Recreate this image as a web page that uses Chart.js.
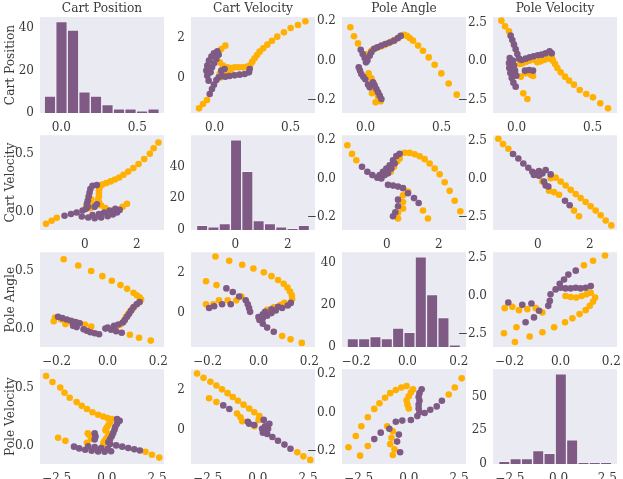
<!DOCTYPE html>
<html>
<head>
<meta charset="utf-8">
<script src="https://cdn.jsdelivr.net/npm/chart.js@4.4.0/dist/chart.umd.min.js"></script>
<style>
  body { margin: 0; background: #fff; }
  #grid { position: relative; width: 623px; height: 479px; overflow: hidden; }
  #grid canvas { position: absolute; }
</style>
</head>
<body>
<div id="grid"></div>
<script>
// variable names (rows / columns)
const variables = ["Cart Position", "Cart Velocity", "Pole Angle", "Pole Velocity"];
const varKeys = ["A", "B", "C", "D"];

// axis ranges
const axisRanges = { A: [-0.155, 0.66], B: [-1.72, 3.04], C: [-0.265, 0.222], D: [-3.33, 2.85] };
const tickSteps = { A: 0.5, B: 2, C: 0.2, D: 2.5 };
const tickDecimals = { A: 1, B: 0, C: 1, D: 1 };

// histograms on the diagonal: counts, first bin edge, bin width
const histCountsA = [8, 43, 39, 10, 8, 4, 2, 2, 1, 2];
const histCountsB = [3, 2, 4, 57, 37, 6, 4, 2, 1, 3];
const histCountsC = [4, 4, 5, 4, 9, 7, 43, 25, 14, 1];
const histCountsD = [2, 4, 4, 10, 8, 67, 18, 1, 1, 1];
const histBins = { A: [-0.112, 0.0757], B: [-1.48, 0.431], C: [-0.235, 0.04415], D: [-3.08, 0.581] };
const histRanges = { A: [-0.14, 0.676], B: [-1.69, 3.04], C: [-0.255, 0.228], D: [-3.37, 3.0] };
const histSteps = { A: 20, B: 20, C: 20, D: 25 };

// scatter pairs [first var, second var]
const purpleAB = [
  [-0.032,-0.778],[-0.017,-0.530],[-0.004,-0.315],[0.012,-0.084],[0.027,0.048],[0.044,0.115],
  [0.071,0.082],[0.099,0.115],[0.132,0.148],[0.165,0.181],[0.198,0.214],[0.226,0.296],[0.231,0.462],
  [-0.048,0.131],[-0.054,0.379],[-0.048,0.627],[-0.037,0.875],[-0.021,1.073],[-0.004,1.238],[0.018,1.338],
  [-0.026,0.296],[-0.017,0.544],[-0.004,0.742],[0.012,0.957],[0.027,1.172],
  [-0.039,-0.117],[0.044,0.379],[0.066,0.462]
];
const orangeAB = [
  [0.597,2.825],[0.548,2.643],[0.500,2.495],[0.456,2.280],[0.412,2.065],[0.377,1.866],[0.347,1.668],
  [0.320,1.486],[0.296,1.321],[0.279,1.156],[0.263,0.990],[0.248,0.825],[0.235,0.660],
  [0.215,0.577],[0.187,0.544],[0.158,0.544],[0.132,0.544],[0.106,0.511],[0.084,0.544],[0.055,0.627],[0.033,0.792],
  [0.033,0.214],[0.062,0.247],[0.088,0.181],[0.110,0.247],[0.044,0.048],
  [0.071,1.619],[0.044,1.453],
  [-0.102,-1.489],[-0.076,-1.274],[-0.050,-1.076]
];
const purpleAC = [
  [-0.032,0.056],[-0.019,0.034],[-0.006,0.014],[0.003,-0.008],[0.012,0.001],[0.027,0.026],[0.038,0.043],
  [0.055,0.060],[0.077,0.068],[0.104,0.077],[0.130,0.085],[0.158,0.093],[0.187,0.102],[0.213,0.115],[0.231,0.126],
  [-0.045,-0.033],[-0.037,-0.050],[-0.028,-0.067],[-0.015,-0.081],[-0.002,-0.094],[0.016,-0.121],[0.027,-0.135],
  [0.049,-0.109],[0.060,-0.126],[0.071,-0.143],[0.082,-0.160],[0.093,-0.177],[0.104,-0.194]
];
const orangeAC = [
  [-0.100,0.170],[-0.076,0.124],[-0.050,0.088],[0.012,0.034],
  [0.020,0.026],[0.038,0.051],[0.060,0.063],[0.082,0.068],[0.104,0.073],[0.125,0.080],[0.147,0.088],
  [0.169,0.097],[0.191,0.105],[0.213,0.115],[0.235,0.127],[0.253,0.132],[0.272,0.126],[0.290,0.115],
  [0.312,0.102],[0.345,0.077],[0.377,0.051],[0.415,0.017],[0.454,-0.020],[0.498,-0.064],[0.546,-0.115],[0.599,-0.172],
  [0.020,-0.064],[0.038,-0.089],[0.055,-0.118],[0.042,-0.165],[0.064,-0.152],[0.077,-0.157],[0.082,-0.182],
  [0.066,-0.211],[0.099,-0.206]
];
const purpleAD = [
  [-0.039,1.648],[-0.028,1.369],[-0.017,1.069],[-0.006,0.769],[0.005,0.468],[0.016,0.168],[0.033,0.082],
  [0.060,0.168],[0.086,0.254],[0.112,0.318],[0.139,0.382],[0.165,0.425],[0.191,0.511],[0.217,0.640],[0.231,0.511],
  [-0.045,0.211],[-0.050,-0.111],[-0.048,-0.433],[-0.041,-0.755],[-0.032,-1.077],[-0.021,-1.377],[-0.006,-1.635],
  [-0.024,0.039],[-0.017,-0.283],[-0.010,-0.605],[-0.002,-0.927],
  [0.055,-0.605],[0.082,-0.562],[0.108,-0.605]
];
const orangeAD = [
  [-0.100,2.614],[-0.076,2.249],[-0.050,1.927],
  [0.020,-0.176],[0.038,-0.133],[0.060,-0.047],[0.082,0.039],[0.104,0.103],[0.136,-0.068],[0.158,-0.004],
  [0.180,0.082],[0.209,0.168],[0.231,0.254],
  [0.239,0.039],[0.253,-0.176],[0.268,-0.433],[0.290,-0.712],[0.318,-0.991],[0.345,-1.249],[0.377,-1.506],
  [0.415,-1.849],[0.458,-2.107],[0.502,-2.321],[0.550,-2.708],[0.601,-3.030],
  [0.027,-0.991],[0.060,-0.776],[0.093,-0.862],[0.108,-0.948],[0.044,-2.064],[0.071,-2.429]
];
const purpleBC = [
  [-0.952,0.060],[-0.747,0.034],[-0.556,0.017],[-0.364,0.004],[-0.274,0.017],[-0.146,0.034],[-0.018,0.051],
  [0.110,0.068],[0.238,0.093],[0.366,0.115],[0.494,0.127],
  [-0.210,0.000],[-0.082,0.017],[0.046,0.026],[0.174,0.051],[0.302,0.077],
  [0.046,-0.033],[0.238,-0.037],[0.430,-0.042],[0.622,-0.050],[0.814,-0.076],[1.044,-0.101],[1.223,-0.126],
  [0.430,-0.109],[0.430,-0.143],[0.327,-0.174],[0.238,-0.194]
];
const orangeBC = [
  [-1.515,0.170],[-1.336,0.126],[-1.170,0.093],
  [0.148,0.034],[0.276,0.060],[0.404,0.088],[0.494,0.102],[0.686,0.132],[0.878,0.131],[1.070,0.124],
  [1.261,0.114],[1.453,0.099],[1.645,0.077],[1.837,0.051],[2.029,0.021],[2.221,-0.020],[2.413,-0.064],
  [2.605,-0.115],[2.823,-0.169],
  [0.814,-0.067],[0.622,-0.087],[0.622,-0.121],[0.622,-0.155],[0.430,-0.177],[0.430,-0.206],
  [1.389,-0.165],[1.581,-0.206]
];
const purpleBD = [
  [-0.952,1.627],[-0.747,1.327],[-0.556,1.005],[-0.364,0.726],[-0.210,0.468],[-0.082,0.361],[0.046,0.511],
  [0.174,0.361],[0.302,0.575],[0.494,0.296],[-0.146,0.254],[0.046,0.211],
  [0.238,-0.176],[0.302,-0.433],[0.404,-0.497],[1.044,-1.420],[1.223,-1.721]
];
const orangeBD = [
  [-1.515,2.614],[-1.336,2.271],[-1.131,1.970],
  [0.494,0.039],[0.686,0.082],[0.878,-0.176],[1.070,-0.433],[1.261,-0.712],[1.453,-0.991],[1.645,-1.249],
  [1.837,-1.506],[2.029,-1.785],[2.221,-2.064],[2.413,-2.364],[2.605,-2.708],[2.823,-3.030],
  [0.174,-0.176],[0.430,-0.776],[0.622,-0.862],[0.814,-1.034],[1.389,-2.064],[1.581,-2.429]
];
const purpleCD = [
  [-0.205,-0.433],[-0.150,-0.583],[-0.114,-0.497],[-0.084,-0.970],[-0.104,-1.399],[-0.137,-1.721],
  [-0.048,-0.648],[-0.042,-0.326],[-0.039,0.103],[-0.019,0.425],[-0.003,0.790],[0.014,1.069],[0.031,1.391],[0.060,1.648],
  [0.001,0.532],[0.020,0.490],[0.040,0.490],[0.060,0.532],[0.079,0.490],[0.099,0.532],[0.119,0.640]
];
const orangeCD = [
  [0.175,2.635],[0.128,2.292],[0.092,1.992],
  [-0.222,-2.429],[-0.179,-3.008],[-0.173,-2.043],[-0.121,-2.643],[-0.071,-2.364],[-0.025,-2.043],[0.018,-1.721],
  [0.047,-1.463],[0.075,-1.184],[0.099,-0.927],[0.115,-0.648],[0.128,-0.369],[0.136,-0.111],
  [0.020,-0.004],[0.040,-0.068],[0.062,-0.111],[0.083,-0.004],[0.102,0.103],[0.119,0.211],
  [-0.219,-0.798],[-0.189,-0.712],[-0.163,-0.927],[-0.130,-0.862],[-0.097,-0.798],[-0.071,-1.077]
];

const pairs = {
  AB: [purpleAB, orangeAB], AC: [purpleAC, orangeAC], AD: [purpleAD, orangeAD],
  BC: [purpleBC, orangeBC], BD: [purpleBD, orangeBD], CD: [purpleCD, orangeCD]
};
const histCounts = { A: histCountsA, B: histCountsB, C: histCountsC, D: histCountsD };

// look
const PURPLE = "#7e5a84";
const ORANGE = "#ffb000";
const PANEL_BG = "#eaeaf2";
const TEXT = "#3a3a3a";
const FONT = "'DejaVu Serif', serif";
const tickFont = { family: FONT, size: 12, weight: "normal" };
const labelFont = { family: FONT, size: 12.2, weight: "normal", lineHeight: 17 / 12.2 };

const colLeft = [40, 191, 342, 493];
const rowTop = [17, 134, 251, 368];
const PW = 124, PH = 96, YW = 40, RM = 14, TM = 12, XH = 24;

const panelBackground = {
  id: "panelBackground",
  beforeDraw(chart) {
    const { ctx, chartArea: a } = chart;
    ctx.save();
    ctx.fillStyle = PANEL_BG;
    ctx.fillRect(a.left, a.top, a.width, a.height);
    ctx.restore();
  }
};

function fmt(v, dec) {
  if (Math.abs(v) < 1e-9) v = 0;
  return v.toFixed(dec).replace("-", "\u2212");
}

function axis(range, step, dec, horizontal) {
  return {
    type: "linear",
    min: range[0],
    max: range[1],
    offset: false,
    grid: { display: false, drawTicks: false },
    border: { display: false },
    ticks: {
      autoSkip: false,
      source: "labels",
      maxRotation: 0,
      padding: horizontal ? 8 : 6,
      color: TEXT,
      font: tickFont,
      callback: (v) => fmt(v, dec)
    },
    // ticks at whole multiples of the step inside the range
    afterBuildTicks: (s) => {
      const ticks = [];
      for (let k = Math.ceil(range[0] / step); k * step <= range[1] + 1e-9; k++) {
        ticks.push({ value: Math.round(k * step * 1000) / 1000 });
      }
      s.ticks = ticks;
    },
    afterFit: horizontal ? (s) => { s.height = XH; } : (s) => { s.width = YW; }
  };
}

const grid = document.getElementById("grid");

function makePanel(r, c) {
  const xKey = varKeys[r], yKey = varKeys[c];
  const topRoom = r === 0 ? 17 : TM;
  const w = YW + PW + RM, h = topRoom + PH + XH;

  const canvas = document.createElement("canvas");
  canvas.width = w; canvas.height = h;
  canvas.style.width = w + "px"; canvas.style.height = h + "px";
  canvas.style.left = (colLeft[c] - YW) + "px";
  canvas.style.top = (rowTop[r] - topRoom) + "px";
  canvas.style.zIndex = String(1 + r * 4 + c);
  grid.appendChild(canvas);

  let type, datasets, xAxis, yAxis;
  if (r === c) {
    const counts = histCounts[xKey];
    const [start, width] = histBins[xKey];
    type = "bar";
    datasets = [{
      data: counts.map((n, i) => ({ x: start + (i + 0.5) * width, y: n })),
      backgroundColor: PURPLE,
      borderColor: "rgba(255,255,255,0.3)",
      borderWidth: 1,
      barPercentage: 1,
      categoryPercentage: 1
    }];
    xAxis = axis(histRanges[xKey], tickSteps[xKey], tickDecimals[xKey], true);
    yAxis = axis([0, Math.max(...counts) * 1.05], histSteps[xKey], 0, false);
  } else {
    const key = r < c ? xKey + yKey : yKey + xKey;
    const [purple, orange] = pairs[key];
    const toPoint = r < c ? (p) => ({ x: p[0], y: p[1] }) : (p) => ({ x: p[1], y: p[0] });
    type = "scatter";
    datasets = [
      { data: purple.map(toPoint), backgroundColor: PURPLE, borderWidth: 0, pointRadius: 3.3 },
      { data: orange.map(toPoint), backgroundColor: ORANGE, borderWidth: 0, pointRadius: 3.3 }
    ];
    xAxis = axis(axisRanges[xKey], tickSteps[xKey], tickDecimals[xKey], true);
    yAxis = axis(axisRanges[yKey], tickSteps[yKey], tickDecimals[yKey], false);
  }

  if (c === 0) {
    yAxis.title = { display: true, text: variables[r], color: TEXT, font: labelFont, padding: { top: 2, bottom: 0 } };
  }

  new Chart(canvas.getContext("2d"), {
    type: type,
    data: { datasets: datasets },
    options: {
      responsive: false,
      animation: false,
      events: [],
      layout: { padding: { top: r === 0 ? 0 : TM, right: RM, left: 0, bottom: 0 } },
      scales: { x: xAxis, y: yAxis },
      plugins: {
        legend: { display: false },
        tooltip: { enabled: false },
        title: {
          display: r === 0,
          text: variables[c],
          fullSize: false,
          color: TEXT,
          font: labelFont,
          padding: { top: 0, bottom: 0 }
        }
      }
    },
    plugins: [panelBackground]
  });
}

for (let r = 0; r < 4; r++) {
  for (let c = 0; c < 4; c++) makePanel(r, c);
}
</script>
</body>
</html>
